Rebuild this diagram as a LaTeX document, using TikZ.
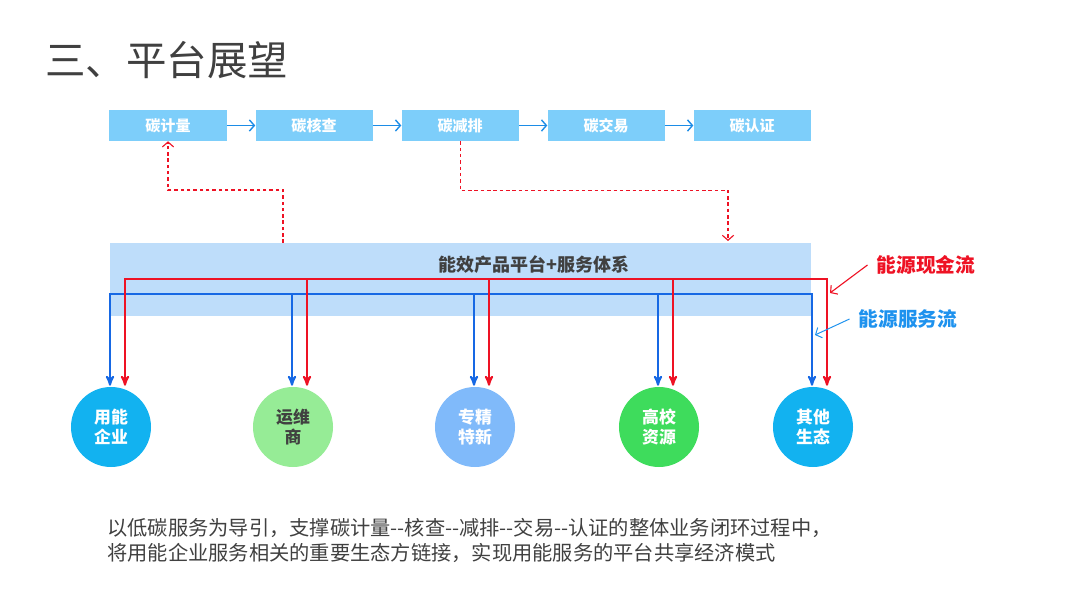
\documentclass[tikz,border=0pt]{standalone}
\usepackage{fontspec}
\setmainfont{Noto Sans CJK SC}
\usetikzlibrary{arrows,arrows.meta,calc}

\definecolor{boxblue}{RGB}{125,206,250}
\definecolor{linkblue}{RGB}{28,140,230}
\definecolor{bandblue}{RGB}{190,221,250}
\definecolor{cashred}{RGB}{238,18,36}
\definecolor{servblue}{RGB}{22,104,228}
\definecolor{legendblue}{RGB}{30,146,238}
\definecolor{inkgray}{RGB}{64,64,64}
\definecolor{ecoblue}{RGB}{18,178,240}
\definecolor{ecogreen}{RGB}{150,236,150}
\definecolor{ecosky}{RGB}{128,186,250}
\definecolor{ecolime}{RGB}{62,220,92}

\begin{document}
\begin{tikzpicture}[x=0.025cm,y=-0.025cm,->,>=stealth',node distance=3.65cm,
    step node/.style={rectangle,fill=boxblue,text=white,inner sep=0pt,
      font=\bfseries\fontsize{10.7}{12}\selectfont,
      minimum width=2.925cm,minimum height=0.775cm},
    eco node/.style={circle,minimum size=2cm,inner sep=0pt,align=center,
      text=white,font=\bfseries\fontsize{12}{14.2}\selectfont},
    band/.style={rectangle,fill=bandblue,inner sep=0pt,
      minimum width=17.525cm,minimum height=1.825cm},
    barb/.style={-{Straight Barb[length=3.5pt,width=8pt]}},
    link/.style={draw=linkblue,line width=1pt,barb},
    dash link/.style={draw=cashred,line width=0.8pt,dash pattern=on 2.5pt off 2pt,barb},
    serv line/.style={draw=servblue,line width=1.4pt},
    cash line/.style={draw=cashred,line width=1.4pt},
    flow label/.style={font=\bfseries\fontsize{14}{16}\selectfont,inner sep=6.4pt},
    note/.style={anchor=base west,inner sep=0pt,text=inkgray,
      font=\fontsize{14.4}{17}\selectfont}]

  \useasboundingbox (0,0) rectangle (1080,602);

  \node[anchor=west,inner sep=0pt,text=inkgray,font=\fontsize{28.8}{32}\selectfont]
    (title) at (45,60) {三、平台展望};

  % carbon chain
  \node[step node] (JL) at (168,125.5) {碳计量};
  \node[step node] (HC) [right of=JL] {碳核查};
  \node[step node] (JP) [right of=HC] {碳减排};
  \node[step node] (JY) [right of=JP] {碳交易};
  \node[step node] (RZ) [right of=JY] {碳认证};

  \path
    (JL) edge[link] (HC)
    (HC) edge[link] (JP)
    (JP) edge[link] (JY)
    (JY) edge[link] (RZ);

  % platform
  \node[band] (PF) at (460.5,279.5) {};
  \node[text=inkgray,font=\bfseries\fontsize{12.8}{14}\selectfont]
    (PFT) at (534,265) {能效产品平台+服务体系};

  \coordinate (upfoot) at (283,243);
  \coordinate (downfoot) at (728,241);
  \draw[dash link] (upfoot) -- ++(0,-53) -| (JL.south);
  \draw[dash link] (JP.south) -- ++(0,49) -| (downfoot);

  % ecosystem
  \node[eco node,fill=ecoblue] (YN) at (111,427) {用能\\企业};
  \node[eco node,fill=ecogreen,text=inkgray] (YW) at (293,427) {运维\\商};
  \node[eco node,fill=ecosky] (ZJ) at (475,427) {专精\\特新};
  \node[eco node,fill=ecolime] (GX) at (659,427) {高校\\资源};
  \node[eco node,fill=ecoblue] (QT) at (813,427) {其他\\生态};

  \coordinate (cashbus) at (0,279);
  \coordinate (servbus) at (0,294);
  \foreach \n in {YN,YW,ZJ,GX,QT}{
    \path (\n.north) ++(-1,-1) coordinate (\n-s) ++(15,0) coordinate (\n-c);
  }

  \draw[serv line,<->] (YN-s) -- (YN-s |- servbus) -- (QT-s |- servbus) -- (QT-s);
  \foreach \n in {YW,ZJ,GX}
    \draw[serv line] (\n-s |- servbus) -- (\n-s);
  \draw[cash line,<->] (YN-c) -- (YN-c |- cashbus) -- (QT-c |- cashbus) -- (QT-c);
  \foreach \n in {YW,ZJ,GX}
    \draw[cash line] (\n-c |- cashbus) -- (\n-c);

  % legend
  \node[flow label,text=cashred] (XJ) at (926,265) {能源现金流};
  \node[flow label,text=legendblue] (FW) at (908,319) {能源服务流};
  \coordinate (cashhit) at (830,293);
  \coordinate (servhit) at (815,335);
  \draw[cashred,line width=0.8pt,barb] (XJ.west) -- (cashhit);
  \draw[legendblue,line width=0.7pt,barb] (FW.west) -- (servhit);

  \node[note] (note1) at (107,536)
    {以低碳服务为导引，支撑碳计量-{}-核查-{}-减排-{}-交易-{}-认证的整体业务闭环过程中，};
  \node[note] (note2) at (107,561)
    {将用能企业服务相关的重要生态方链接，实现用能服务的平台共享经济模式};
\end{tikzpicture}
\end{document}
